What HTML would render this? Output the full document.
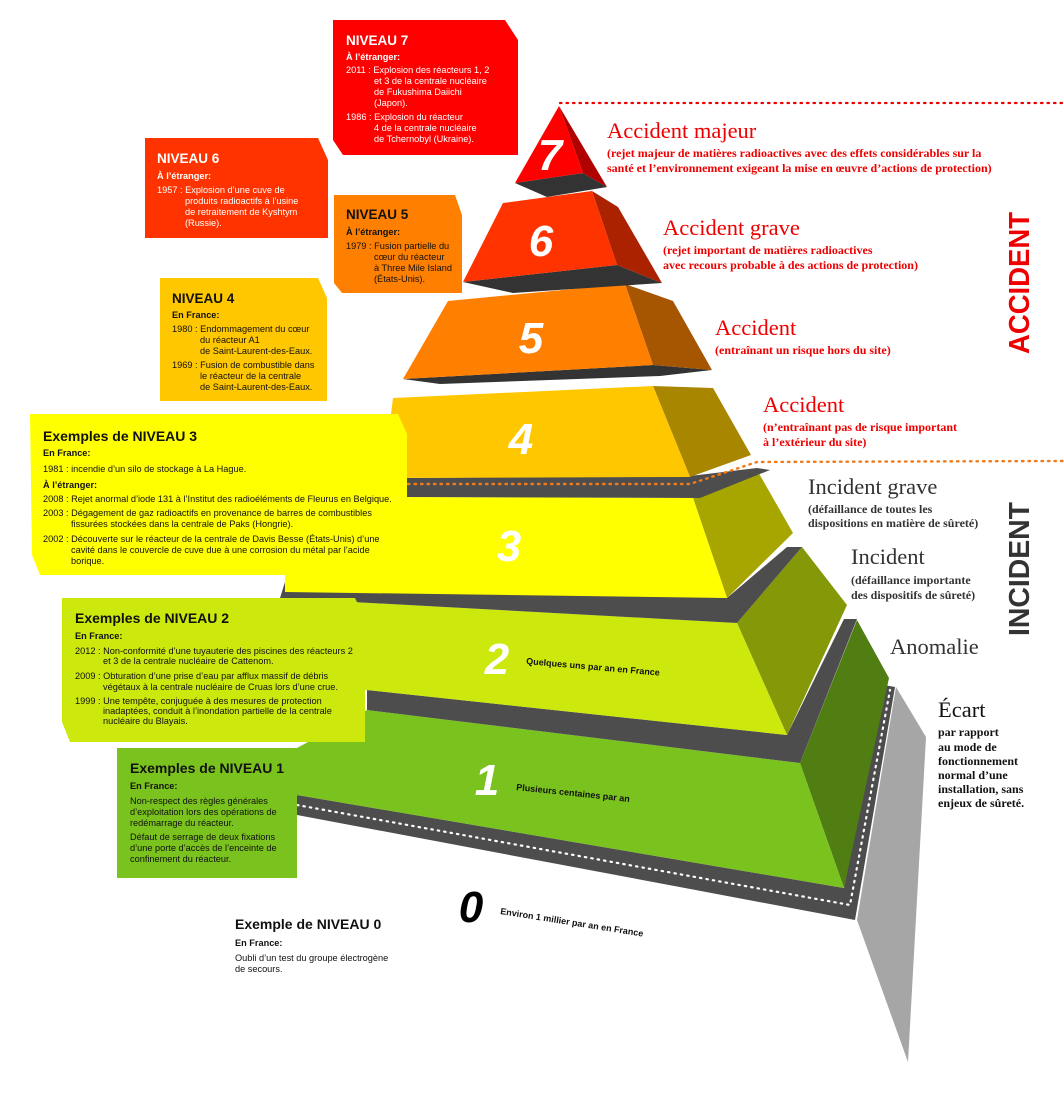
<!DOCTYPE html>
<html><head><meta charset="utf-8"><style>
html,body{margin:0;padding:0;background:#fff}
svg{display:block}
.s{font-family:"Liberation Sans",sans-serif}
.t{font-family:"Liberation Serif",serif}
.b{font-size:9.2px}
</style></head><body>
<svg width="1064" height="1094" viewBox="0 0 1064 1094" xmlns="http://www.w3.org/2000/svg">
<polygon points="896,687 926,737 908,1062 857,920" fill="#a6a6a6"/>
<polygon points="297,795 844,888 884,685 895,687 855,920 297,815" fill="#4d4d4d"/>
<polyline points="297,805 850,905 890,690" fill="none" stroke="#fff" stroke-width="2.2" stroke-dasharray="1.5,5" stroke-linecap="round"/>
<polygon points="800,763 857,620 889,678 844,888" fill="#507e12"/>
<polygon points="367,710 800,763 844,888 297,795 297,748" fill="#7ac21e"/>
<polygon points="367,690 787,735 844,619 857,619 800,763 367,710" fill="#4d4d4d"/>
<polygon points="737,623 802,547 847,605 787,735" fill="#849808"/>
<polygon points="280,598 737,623 787,735 367,690 300,690" fill="#cce80c"/>
<polygon points="285,582 727,598 787,547 802,547 737,623 280,598" fill="#4d4d4d"/>
<polygon points="693,498 757,470 793,533 727,598" fill="#a7a600"/>
<polygon points="400,497 693,498 727,598 285,592 285,560" fill="#ffff00"/>
<polygon points="407,478 690,476 757,468 770,470 700,498 407,497" fill="#4d4d4d"/>
<polygon points="653,386 713,388 751,455 690,477" fill="#a88600"/>
<polygon points="393,398 653,386 690,477 383,478" fill="#ffc700"/>
<polyline points="408,484 690,484 757,462 1064,461" fill="none" stroke="#f07a1a" stroke-width="2.4" stroke-dasharray="1.5,5" stroke-linecap="round"/>
<polygon points="403,379 653,365 712,370 660,376 440,384" fill="#333"/>
<polygon points="625,284 673,301 712,370 653,365" fill="#a65500"/>
<polygon points="448,301 625,284 653,365 403,379" fill="#ff7f00"/>
<polygon points="463,282 617,265 662,283 513,293" fill="#333"/>
<polygon points="592,191 618,207 662,283 617,265" fill="#aa2200"/>
<polygon points="503,203 592,191 617,265 463,282" fill="#ff3300"/>
<polygon points="515,183 583,173 607,187 547,197" fill="#333"/>
<polygon points="559,106 607,187 583,173" fill="#b00000"/>
<polygon points="559,106 583,173 515,183" fill="#ff0000"/>
<polyline points="560,103 1064,103" fill="none" stroke="#e00" stroke-width="2.2" stroke-dasharray="1.5,5" stroke-linecap="round"/>

<g class="s" font-weight="bold" font-style="italic" font-size="44" fill="#fff" text-anchor="middle">
<text x="550" y="170">7</text>
<text x="541" y="256">6</text>
<text x="531" y="353">5</text>
<text x="521" y="454">4</text>
<text x="509" y="561">3</text>
<text x="497" y="674">2</text>
<text x="487" y="795">1</text>
<text x="471" y="922" fill="#000">0</text>
</g>
<g class="s" font-weight="bold" font-size="9" fill="#111">
<text transform="translate(526,664) rotate(5)">Quelques uns par an en France</text>
<text transform="translate(516,790) rotate(6)">Plusieurs centaines par an</text>
<text transform="translate(500,914) rotate(9)">Environ 1 millier par an en France</text>
</g>

<polygon points="333,20 505,20 518,40 518,155 343,155 333,140" fill="#ff0000"/>
<polygon points="145,138 318,138 328,160 328,238 145,238" fill="#ff3300"/>
<polygon points="334,195 455,195 462,215 462,293 342,293 334,283" fill="#ff7f00"/>
<polygon points="160,278 318,278 327,298 327,401 160,401" fill="#ffc700"/>
<polygon points="30,414 398,414 407,434 407,575 40,575 32,555" fill="#ffff00"/>
<polygon points="62,598 355,598 365,618 365,742 70,742 62,722" fill="#cce80c"/>
<polygon points="117,748 297,748 297,878 117,878" fill="#7ac21e"/>

<g class="s">
<g fill="#fff">
<text x="346" y="45" font-size="13.5" font-weight="bold">NIVEAU 7</text>
<text x="346" y="60" class="b" font-weight="bold">À l’étranger:</text>
<g class="b"><text x="346" y="73">2011 : Explosion des réacteurs 1, 2</text>
<text x="374" y="84">et 3 de la centrale nucléaire</text>
<text x="374" y="95">de Fukushima Daiichi</text>
<text x="374" y="106">(Japon).</text>
<text x="346" y="120">1986 : Explosion du réacteur</text>
<text x="374" y="131">4 de la centrale nucléaire</text>
<text x="374" y="142">de Tchernobyl (Ukraine).</text></g>
<text x="157" y="163" font-size="13.5" font-weight="bold">NIVEAU 6</text>
<text x="157" y="179" class="b" font-weight="bold">À l’étranger:</text>
<g class="b"><text x="157" y="193">1957 : Explosion d’une cuve de</text>
<text x="185" y="204">produits radioactifs à l’usine</text>
<text x="185" y="215">de retraitement de Kyshtym</text>
<text x="185" y="226">(Russie).</text></g>
</g>
<g fill="#111">
<text x="346" y="219" font-size="13.5" font-weight="bold">NIVEAU 5</text>
<text x="346" y="235" class="b" font-weight="bold">À l’étranger:</text>
<g class="b"><text x="346" y="249">1979 : Fusion partielle du</text>
<text x="374" y="260">cœur du réacteur</text>
<text x="374" y="271">à Three Mile Island</text>
<text x="374" y="282">(États-Unis).</text></g>
<text x="172" y="303" font-size="13.5" font-weight="bold">NIVEAU 4</text>
<text x="172" y="318" class="b" font-weight="bold">En France:</text>
<g class="b"><text x="172" y="332">1980 : Endommagement du cœur</text>
<text x="200" y="343">du réacteur A1</text>
<text x="200" y="354">de Saint-Laurent-des-Eaux.</text>
<text x="172" y="368">1969 : Fusion de combustible dans</text>
<text x="200" y="379">le réacteur de la centrale</text>
<text x="200" y="390">de Saint-Laurent-des-Eaux.</text></g>
<text x="43" y="441" font-size="14" font-weight="bold">Exemples de NIVEAU 3</text>
<text x="43" y="456" class="b" font-weight="bold">En France:</text>
<g class="b"><text x="43" y="472">1981 : incendie d’un silo de stockage à La Hague.</text>
<text x="43" y="488" font-weight="bold">À l’étranger:</text>
<text x="43" y="502">2008 : Rejet anormal d’iode 131 à l’Institut des radioéléments de Fleurus en Belgique.</text>
<text x="43" y="516">2003 : Dégagement de gaz radioactifs en provenance de barres de combustibles</text>
<text x="71" y="527">fissurées stockées dans la centrale de Paks (Hongrie).</text>
<text x="43" y="542">2002 : Découverte sur le réacteur de la centrale de Davis Besse (États-Unis) d’une</text>
<text x="71" y="553">cavité dans le couvercle de cuve due à une corrosion du métal par l’acide</text>
<text x="71" y="564">borique.</text></g>
<text x="75" y="623" font-size="14" font-weight="bold">Exemples de NIVEAU 2</text>
<text x="75" y="639" class="b" font-weight="bold">En France:</text>
<g class="b"><text x="75" y="654">2012 : Non-conformité d’une tuyauterie des piscines des réacteurs 2</text>
<text x="103" y="664">et 3 de la centrale nucléaire de Cattenom.</text>
<text x="75" y="679">2009 : Obturation d’une prise d’eau par afflux massif de débris</text>
<text x="103" y="690">végétaux à la centrale nucléaire de Cruas lors d’une crue.</text>
<text x="75" y="704">1999 : Une tempête, conjuguée à des mesures de protection</text>
<text x="103" y="714">inadaptées, conduit à l’inondation partielle de la centrale</text>
<text x="103" y="724">nucléaire du Blayais.</text></g>
<text x="130" y="773" font-size="14" font-weight="bold">Exemples de NIVEAU 1</text>
<text x="130" y="789" class="b" font-weight="bold">En France:</text>
<g class="b"><text x="130" y="804">Non-respect des règles générales</text>
<text x="130" y="815">d’exploitation lors des opérations de</text>
<text x="130" y="826">redémarrage du réacteur.</text>
<text x="130" y="840">Défaut de serrage de deux fixations</text>
<text x="130" y="851">d’une porte d’accès de l’enceinte de</text>
<text x="130" y="862">confinement du réacteur.</text></g>
<text x="235" y="929" font-size="14" font-weight="bold">Exemple de NIVEAU 0</text>
<text x="235" y="946" class="b" font-weight="bold">En France:</text>
<g class="b"><text x="235" y="961">Oubli d’un test du groupe électrogène</text>
<text x="235" y="972">de secours.</text></g>
</g>
</g>

<g class="t" fill="#e00">
<text x="607" y="138" font-size="22.5">Accident majeur</text>
<text x="607" y="157" font-size="12" font-weight="bold">(rejet majeur de matières radioactives avec des effets considérables sur la</text>
<text x="607" y="172" font-size="12" font-weight="bold">santé et l’environnement exigeant la mise en œuvre d’actions de protection)</text>
<text x="663" y="235" font-size="22.5">Accident grave</text>
<text x="663" y="254" font-size="12" font-weight="bold">(rejet important de matières radioactives</text>
<text x="663" y="269" font-size="12" font-weight="bold">avec recours probable à des actions de protection)</text>
<text x="715" y="335" font-size="22.5">Accident</text>
<text x="715" y="354" font-size="12" font-weight="bold">(entraînant un risque hors du site)</text>
<text x="763" y="412" font-size="22.5">Accident</text>
<text x="763" y="431" font-size="12" font-weight="bold">(n’entraînant pas de risque important</text>
<text x="763" y="446" font-size="12" font-weight="bold">à l’extérieur du site)</text>
</g>
<g class="t" fill="#333">
<text x="808" y="494" font-size="22.5">Incident grave</text>
<text x="808" y="513" font-size="12" font-weight="bold">(défaillance de toutes les</text>
<text x="808" y="527" font-size="12" font-weight="bold">dispositions en matière de sûreté)</text>
<text x="851" y="564" font-size="22.5">Incident</text>
<text x="851" y="584" font-size="12" font-weight="bold">(défaillance importante</text>
<text x="851" y="599" font-size="12" font-weight="bold">des dispositifs de sûreté)</text>
<text x="890" y="654" font-size="22.5">Anomalie</text>
</g>
<g class="t" fill="#111">
<text x="938" y="717" font-size="22.5">Écart</text>
<g font-size="12" font-weight="bold">
<text x="938" y="736">par rapport</text>
<text x="938" y="751">au mode de</text>
<text x="938" y="765">fonctionnement</text>
<text x="938" y="779">normal d’une</text>
<text x="938" y="793">installation, sans</text>
<text x="938" y="807">enjeux de sûreté.</text>
</g></g>
<g class="s" font-weight="bold" font-size="29">
<text transform="translate(1029,354) rotate(-90)" fill="#e00" textLength="142" lengthAdjust="spacingAndGlyphs">ACCIDENT</text>
<text transform="translate(1029,636) rotate(-90)" fill="#333" textLength="134" lengthAdjust="spacingAndGlyphs">INCIDENT</text>
</g>
</svg>
</body></html>
